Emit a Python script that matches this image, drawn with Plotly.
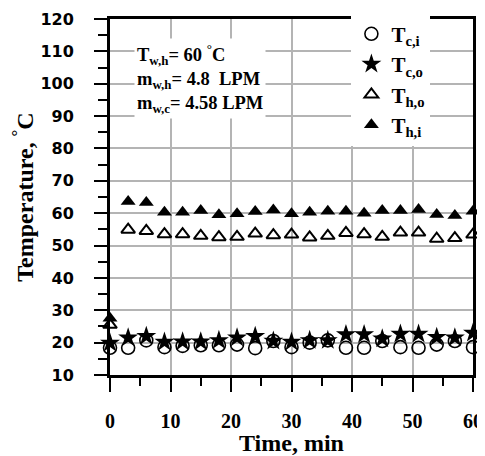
import plotly.graph_objects as go

time_min = [0, 3, 6, 9, 12, 15, 18, 21, 24, 27, 30, 33, 36, 39, 42, 45, 48, 51, 54, 57, 60]
T_ci = [18.4, 18.4, 20.7, 18.6, 19.0, 19.2, 19.2, 19.4, 18.3, 20.5, 18.6, 20.0, 20.7,
        18.4, 18.4, 20.5, 18.6, 18.4, 19.4, 20.5, 18.6]
T_co = [19.9, 21.5, 22.0, 20.2, 20.3, 20.3, 20.7, 21.5, 22.0, 20.5, 20.2, 20.7, 20.7,
        22.5, 22.5, 21.2, 22.7, 22.7, 21.7, 21.5, 23.0]
T_ho = [25.5, 54.9, 54.5, 53.5, 53.5, 53.0, 52.6, 52.7, 53.7, 53.2, 53.4, 52.5, 53.0,
        53.9, 53.5, 52.7, 54.0, 54.0, 52.1, 52.3, 53.4]
T_hi = [27.5, 63.6, 63.3, 60.3, 60.3, 60.8, 59.5, 59.8, 60.5, 61.0, 59.8, 60.3, 60.6,
        60.6, 60.0, 60.8, 60.8, 61.1, 59.6, 59.3, 60.6]

series_names = ["T<sub>c,i</sub>", "T<sub>c,o</sub>", "T<sub>h,o</sub>", "T<sub>h,i</sub>"]
x_ticks = [0, 10, 20, 30, 40, 50, 60]
y_ticks = [10, 20, 30, 40, 50, 60, 70, 80, 90, 100, 110, 120]
note_lines = ["T<sub>w,h</sub>= 60 <sup>°</sup>C",
              "m<sub>w,h</sub>= 4.8  LPM",
              "m<sub>w,c</sub>= 4.58 LPM"]

fig = go.Figure()
fig.add_trace(go.Scatter(x=time_min, y=T_ci, mode="markers", name=series_names[0],
                         marker=dict(symbol="circle-open", size=13, color="black",
                                     line=dict(width=1.6, color="black")),
                         cliponaxis=False))
fig.add_trace(go.Scatter(x=time_min, y=T_co, mode="markers", name=series_names[1],
                         marker=dict(symbol="star", size=15, color="black",
                                     line=dict(width=0)),
                         cliponaxis=False))
fig.add_trace(go.Scatter(x=time_min, y=T_ho, mode="markers", name=series_names[2],
                         marker=dict(symbol="triangle-up-open", size=12, color="black",
                                     line=dict(width=2, color="black")),
                         cliponaxis=False))
fig.add_trace(go.Scatter(x=time_min, y=T_hi, mode="markers", name=series_names[3],
                         marker=dict(symbol="triangle-up", size=13, color="black",
                                     line=dict(width=0)),
                         cliponaxis=False))

serif = "Liberation Serif"

fig.add_annotation(xref="paper", yref="paper", x=0.066, y=0.947,
                   xanchor="left", yanchor="top", align="left",
                   text="<br>".join(note_lines), showarrow=False,
                   bgcolor="white", borderpad=2,
                   font=dict(family=serif, size=18.5, color="black", weight="bold"))

fig.update_layout(
    width=477, height=448,
    margin=dict(l=102, r=12, t=6, b=81),
    paper_bgcolor="white", plot_bgcolor="white",
    showlegend=True,
    legend=dict(x=0.665, y=1.015, xanchor="left", yanchor="top",
                bgcolor="white", borderwidth=0,
                font=dict(family=serif, size=21, color="black", weight="bold"),
                tracegroupgap=0),
    xaxis=dict(range=[0, 60], tickvals=x_ticks, ticktext=[str(v) for v in x_ticks],
               automargin=False, ticklabeloverflow="allow",
               showgrid=True, gridcolor="#b4b4b4", gridwidth=1.5,
               showline=True, linecolor="black", linewidth=3, mirror=True,
               ticks="outside", ticklen=14, tickwidth=1.5, tickcolor="black",
               minor=dict(dtick=5, ticks="outside", ticklen=8, tickwidth=1.5,
                          tickcolor="black", showgrid=False),
               ticklabelstandoff=12,
               tickfont=dict(family=serif, size=20, color="black", weight="bold"),
               title=dict(text="Time, min", standoff=6,
                          font=dict(family=serif, size=24, color="black", weight="bold")),
               zeroline=False),
    yaxis=dict(range=[10, 120], tickvals=y_ticks, ticktext=[str(v) for v in y_ticks],
               automargin=False, ticklabeloverflow="allow",
               showgrid=True, gridcolor="#b4b4b4", gridwidth=1.5,
               showline=True, linecolor="black", linewidth=3, mirror=True,
               ticks="outside", ticklen=13, tickwidth=1.5, tickcolor="black",
               minor=dict(dtick=5, ticks="outside", ticklen=9, tickwidth=1.5,
                          tickcolor="black", showgrid=False),
               ticklabelstandoff=17,
               tickfont=dict(family="DejaVu Sans", size=16, color="black", weight="bold"),
               title=dict(text="Temperature, <sup>°</sup>C", standoff=5,
                          font=dict(family=serif, size=24, color="black", weight="bold")),
               zeroline=False),
)

fig.write_html("out.html")
